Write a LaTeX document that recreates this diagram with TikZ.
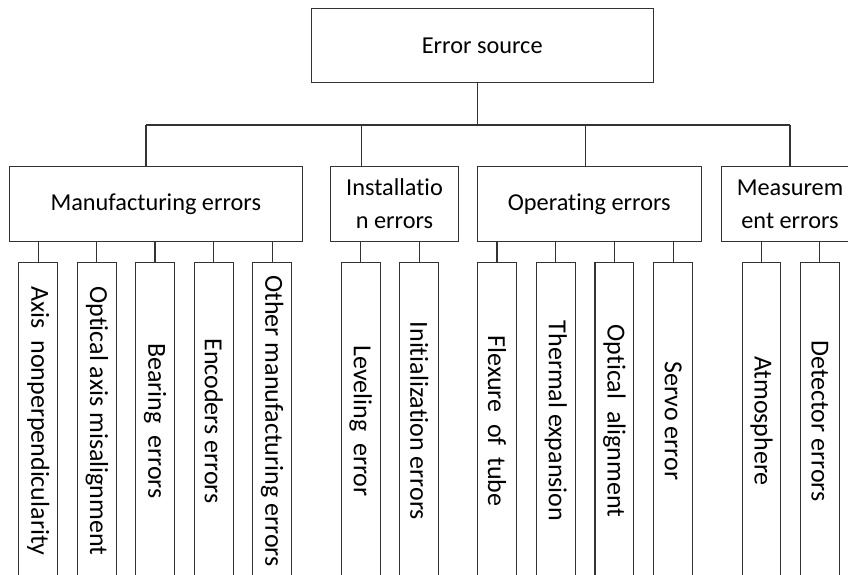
\documentclass[tikz,border=0pt]{standalone}
\usepackage{fontspec}
\setmainfont[Ligatures={NoCommon}]{Carlito}
\colorlet{linecol}{black!80}
\colorlet{txtcol}{black}
\tikzset{
  wire/.style={draw=linecol, line width=1.1pt},
  lbl/.style={draw=linecol, line width=1.1pt, inner sep=0pt, text=txtcol,
    align=center, font=\fontsize{24.3}{33}\selectfont, minimum height=74.3pt},
  leaf/.style={draw=linecol, line width=1.1pt, inner sep=0pt, text=txtcol,
    rotate=-90, minimum width=317pt, minimum height=38.8pt,
    font=\fontsize{26}{30}\selectfont}
}
\newcommand{\wsp}{\hspace{0.45em}}
\begin{document}
\begin{tikzpicture}[x=1pt,y=-1pt]
\useasboundingbox (0,0) rectangle (848,575);
\fill[white] (0,0) rectangle (848,575);
\clip (0,0) rectangle (848,575);

% root
\node[lbl, minimum width=342.3pt, minimum height=73.7pt] (root) at (482.2,45.8) {Error source};

% level 2
\node[lbl, minimum width=293pt]   (man) at (155.8,203.9) {Manufacturing errors};
\node[lbl, minimum width=127.6pt] (ins) at (394.5,203.9) {Installatio\\n errors};
\node[lbl, minimum width=223.7pt] (ope) at (589.2,203.9) {Operating errors};
\node[lbl, minimum width=136.6pt] (mea) at (790,203.9) {Measurem\\ent errors};

% leaves
\node[leaf] (m1) at (38.2,421)  {Axis\wsp nonperpendicularity};
\node[leaf] (m2) at (96.8,421)  {Optical axis misalignment};
\node[leaf] (m3) at (155,421)   {Bearing\wsp errors};
\node[leaf] (m4) at (213.8,421) {Encoders errors};
\node[leaf] (m5) at (272.1,421) {Other manufacturing errors};
\node[leaf] (i1) at (360.7,421) {Leveling\wsp error};
\node[leaf] (i2) at (419.3,421) {Initialization errors};
\node[leaf] (o1) at (497,421)   {Flexure\wsp of\wsp tube};
\node[leaf] (o2) at (555.8,421) {Thermal expansion};
\node[leaf] (o3) at (614.4,421) {Optical\wsp alignment};
\node[leaf] (o4) at (673.1,421) {Servo error};
\node[leaf] (s1) at (761.5,421) {Atmosphere};
\node[leaf] (s2) at (819.8,421) {Detector errors};

% bus
\coordinate (top) at (477.7,125);
\coordinate (b1) at (146,125);
\coordinate (b2) at (361.5,125);
\coordinate (b3) at (585.6,125);
\coordinate (b4) at (790,125);
\draw[wire] (top |- root.south) -- (top);
\draw[wire] (b1) -- (b4);
\draw[wire] (b1) -- (b1 |- man.north);
\draw[wire] (b2) -- (b2 |- ins.north);
\draw[wire] (b3) -- (b3 |- ope.north);
\draw[wire] (b4) -- (b4 |- mea.north);

% leaf connectors
\foreach \l in {m1,m2,m3,m4,m5} \draw[wire] (\l.west) -- (\l.west |- man.south);
\foreach \l in {i1,i2} \draw[wire] (\l.west) -- (\l.west |- ins.south);
\foreach \l in {o1,o2,o3,o4} \draw[wire] (\l.west) -- (\l.west |- ope.south);
\foreach \l in {s1,s2} \draw[wire] (\l.west) -- (\l.west |- mea.south);
\end{tikzpicture}
\end{document}
